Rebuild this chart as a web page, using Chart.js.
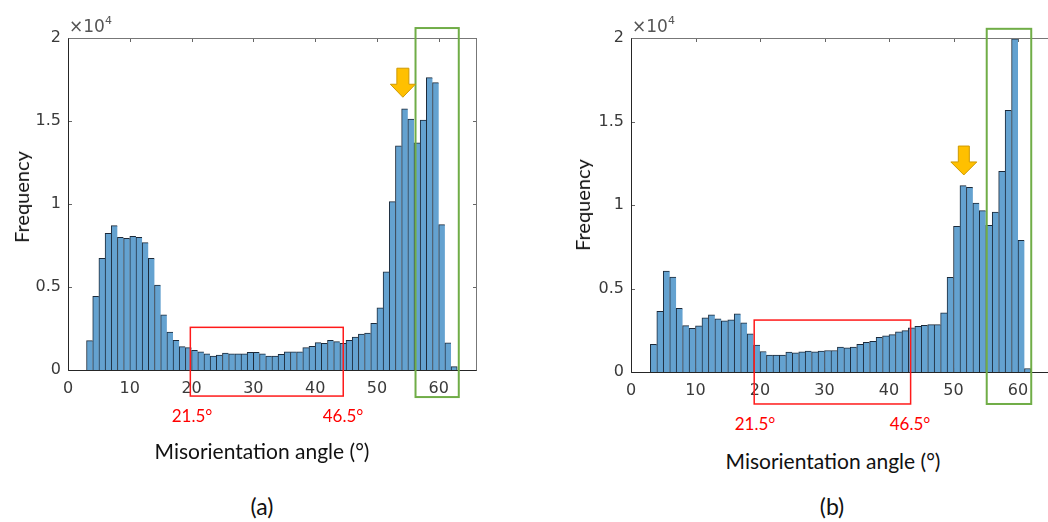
<!DOCTYPE html>
<html>
<head>
<meta charset="utf-8">
<script src="https://cdn.jsdelivr.net/npm/chart.js@4.4.1/dist/chart.umd.min.js"></script>
<style>
  html, body { margin: 0; padding: 0; background: #fff; overflow: hidden; }
  #wrap { position: relative; width: 1048px; height: 522px; overflow: hidden; }
  canvas { position: absolute; top: 0; }
  .t { position: absolute; white-space: nowrap; transform: translate(-50%, -50%); font-family: Lato, "Open Sans", sans-serif; color: #111; }
  .ylab { transform: translate(-50%, -50%) rotate(-90deg); font-size: 20px; }
  .xlab { font-size: 21px; }
  .pan { font-size: 23px; }
  .deg { color: #ff0000; font-size: 17px; }
  .mul { position: absolute; font-family: "DejaVu Sans", sans-serif; font-size: 17px; color: #555; white-space: nowrap; }
  .mul sup { font-size: 11px; vertical-align: 8px; }
</style>
</head>
<body>
<div id="wrap">
  <canvas id="histA" width="500" height="410" style="left:0px"></canvas>
  <canvas id="histB" width="520" height="410" style="left:560px"></canvas>

  <div class="mul" style="left:69px; top:14px">×10<sup>4</sup></div>
  <div class="mul" style="left:632px; top:14px">×10<sup>4</sup></div>

  <div class="t ylab" style="left:21px; top:197px">Frequency</div>
  <div class="t ylab" style="left:582px; top:205px">Frequency</div>

  <div class="t deg" style="left:192px; top:415px">21.5°</div>
  <div class="t deg" style="left:343px; top:415px">46.5°</div>
  <div class="t deg" style="left:755px; top:423px">21.5°</div>
  <div class="t deg" style="left:910px; top:423px">46.5°</div>

  <div class="t xlab" style="left:262px; top:450px">Misorientation angle (°)</div>
  <div class="t xlab" style="left:833px; top:460px">Misorientation angle (°)</div>

  <div class="t pan" style="left:262px; top:506px">(a)</div>
  <div class="t pan" style="left:832px; top:506px">(b)</div>
</div>

<script>
// misorientation histograms, 1° bins starting at 3°
const binStart = 3;
const countsA = [
  1770, 4440, 6730, 8230, 8700, 7990, 7930, 8050, 7990, 7670,
  6730, 5120, 3330, 2290, 1790, 1410, 1350, 1190, 1100, 980,
  840, 900, 1020, 980, 980, 980, 1060, 1060, 980, 840,
  840, 940, 1100, 1100, 1100, 1350, 1430, 1650, 1610, 1790,
  1710, 1610, 1790, 1990, 2170, 2230, 2810, 3740, 5920, 10140,
  13510, 15740, 15120, 13680, 15060, 17610, 17310, 8760, 1630, 200
];
const countsB = [
  1650, 3640, 6050, 5690, 3820, 2780, 2620, 2760, 3240, 3420,
  3180, 3060, 3120, 3480, 2940, 2280, 1610, 1230, 1010, 1010,
  1010, 1190, 1150, 1210, 1250, 1210, 1250, 1290, 1290, 1490,
  1450, 1490, 1650, 1770, 1830, 2080, 2160, 2240, 2400, 2480,
  2640, 2740, 2800, 2840, 2840, 3540, 5670, 8730, 11160, 11060,
  10120, 9660, 8790, 9580, 12020, 15670, 19950, 7890, 210
];
const xTicks = [0, 10, 20, 30, 40, 50, 60];
const yTicks = [0, 5000, 10000, 15000, 20000];
const yTickLabels = ['0', '0.5', '1', '1.5', '2'];

const BAR_FILL = 'rgb(100,162,208)';
const BAR_EDGE = '#1c2a3a';

// box, inward ticks and the marked regions
const frame = {
  id: 'frame',
  beforeDatasetsDraw(chart) {
    const { ctx, chartArea: a, scales: { x, y } } = chart;
    ctx.save();
    ctx.strokeStyle = '#666';
    ctx.lineWidth = 1;
    ctx.beginPath();
    xTicks.forEach(v => {
      const px = Math.round(x.getPixelForValue(v)) + 0.5;
      ctx.moveTo(px, a.bottom); ctx.lineTo(px, a.bottom - 4);
      ctx.moveTo(px, a.top); ctx.lineTo(px, a.top + 4);
    });
    yTicks.forEach(v => {
      const py = Math.round(y.getPixelForValue(v)) + 0.5;
      ctx.moveTo(a.left, py); ctx.lineTo(a.left + 4, py);
      ctx.moveTo(a.right, py); ctx.lineTo(a.right - 4, py);
    });
    ctx.stroke();
    ctx.restore();
  },
  afterDatasetsDraw(chart) {
    const { ctx, chartArea: a } = chart;
    const l = Math.round(a.left) + 0.5, r = Math.round(a.right) - 0.5;
    const t = Math.round(a.top) + 0.5, b = Math.round(a.bottom) + 0.5;
    ctx.save();
    ctx.lineWidth = 1;
    ctx.strokeStyle = '#777';
    ctx.beginPath();
    ctx.moveTo(l, t); ctx.lineTo(r, t); ctx.lineTo(r, b);
    ctx.stroke();
    ctx.strokeStyle = '#262626';
    ctx.beginPath();
    ctx.moveTo(l, t); ctx.lineTo(l, b); ctx.lineTo(r, b);
    ctx.stroke();
    ctx.restore();
  },
  afterDraw(chart, args, opts) {
    const { ctx, scales: { x, y } } = chart;
    const box = (bx, color, w) => {
      const x0 = x.getPixelForValue(bx.x0), x1 = x.getPixelForValue(bx.x1);
      const y0 = y.getPixelForValue(bx.top), y1 = y.getPixelForValue(bx.bottom);
      ctx.strokeStyle = color;
      ctx.lineWidth = w;
      ctx.strokeRect(x0, y0, x1 - x0, y1 - y0);
    };
    ctx.save();
    box(opts.red, '#ff1a1a', 1.5);
    box(opts.green, '#70ad47', 2);

    // down arrow
    const ar = opts.arrow;
    const cx = x.getPixelForValue(ar.x);
    const top = y.getPixelForValue(ar.top), tip = y.getPixelForValue(ar.tip);
    const neck = tip - ar.head, hw = ar.headW / 2, sw = ar.shaftW / 2;
    ctx.beginPath();
    ctx.moveTo(cx - sw, top);
    ctx.lineTo(cx + sw, top);
    ctx.lineTo(cx + sw, neck);
    ctx.lineTo(cx + hw, neck);
    ctx.lineTo(cx, tip);
    ctx.lineTo(cx - hw, neck);
    ctx.lineTo(cx - sw, neck);
    ctx.closePath();
    ctx.fillStyle = '#ffc000';
    ctx.fill();
    ctx.strokeStyle = '#cf9a00';
    ctx.lineWidth = 1;
    ctx.stroke();
    ctx.restore();
  }
};

function makeHist(id, counts, xMax, pad, overlay) {
  const points = counts.map((c, i) => ({ x: binStart + i + 0.5, y: c }));
  return new Chart(document.getElementById(id), {
    type: 'bar',
    data: {
      datasets: [{
        data: points,
        backgroundColor: BAR_FILL,
        borderColor: BAR_EDGE,
        borderWidth: ctx => ({ top: 1, left: 1, bottom: 0, right: ctx.dataIndex === counts.length - 1 ? 1 : 0 }),
        borderSkipped: false,
        barPercentage: 1,
        categoryPercentage: 1
      }]
    },
    options: {
      responsive: false,
      animation: false,
      layout: { padding: pad },
      plugins: {
        legend: { display: false },
        tooltip: { enabled: false },
        frame: overlay
      },
      scales: {
        x: {
          type: 'linear',
          min: 0,
          max: xMax,
          offset: false,
          grid: { display: false, drawTicks: false },
          border: { display: false },
          afterBuildTicks: s => { s.ticks = xTicks.map(v => ({ value: v })); },
          afterFit: s => { s.height = 30; },
          ticks: {
            padding: 9,
            color: '#3a3a3a',
            font: { family: 'DejaVu Sans', size: 16 },
            callback: v => String(v)
          }
        },
        y: {
          min: 0,
          max: 20000,
          grid: { display: false, drawTicks: false },
          border: { display: false },
          afterBuildTicks: s => { s.ticks = yTicks.map(v => ({ value: v })); },
          afterFit: s => { s.width = 45; },
          ticks: {
            padding: 7,
            color: '#3a3a3a',
            font: { family: 'DejaVu Sans', size: 16 },
            callback: v => yTickLabels[yTicks.indexOf(v)]
          }
        }
      }
    },
    plugins: [frame]
  });
}

makeHist('histA', countsA, 66.2, { left: 23, top: 38, right: 23, bottom: 10 }, {
  red: { x0: 19.8, x1: 44.55, top: 2570, bottom: -1570 },
  green: { x0: 56.25, x1: 63.25, top: 20600, bottom: -1630 },
  arrow: { x: 54.2, top: 18180, tip: 16430, head: 13, headW: 25, shaftW: 12 }
});

makeHist('histB', countsB, 66.2, { left: 26, top: 38, right: 22, bottom: 8 }, {
  red: { x0: 19.1, x1: 43.35, top: 3110, bottom: -1915 },
  green: { x0: 55.15, x1: 62.05, top: 20550, bottom: -1915 },
  arrow: { x: 51.6, top: 13530, tip: 11800, head: 13, headW: 26, shaftW: 11 }
});
</script>
</body>
</html>
